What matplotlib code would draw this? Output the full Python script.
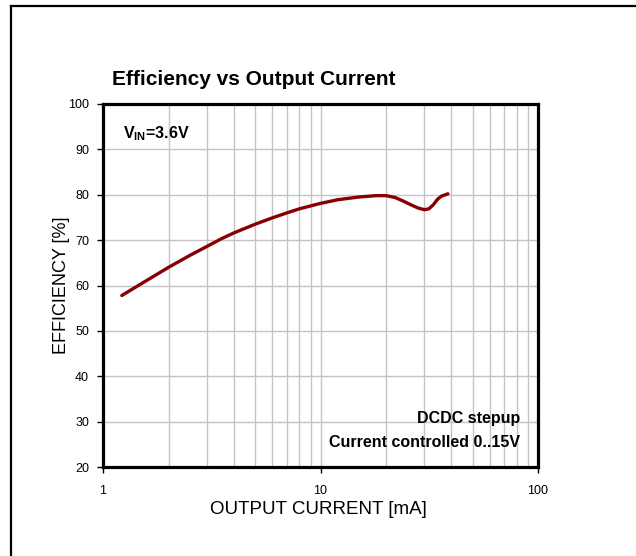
import matplotlib
matplotlib.use('Agg')
import matplotlib.pyplot as plt
from matplotlib.lines import Line2D
from matplotlib.ticker import LogLocator, NullFormatter

plt.rcParams['font.family'] = ['Liberation Sans', 'DejaVu Sans']

# --- DATA ---
current_ma = [1.22, 1.5, 2.0, 2.5, 3.0, 3.5, 4.0, 5.0, 6.0, 7.0, 8.0, 10.0, 12.0,
              15.0, 18.0, 20.0, 22.0, 24.0, 26.0, 28.0, 30.0, 31.5, 33.0, 34.5,
              36.0, 38.5]
efficiency = [57.8, 60.4, 64.0, 66.6, 68.6, 70.3, 71.6, 73.5, 74.9, 76.0, 76.9, 78.1,
              78.9, 79.5, 79.8, 79.8, 79.4, 78.6, 77.8, 77.1, 76.7, 76.9, 77.8, 79.0,
              79.7, 80.2]

title = 'Efficiency vs Output Current'
xlabel = 'OUTPUT CURRENT [mA]'
ylabel = 'EFFICIENCY [%]'
y_ticks = [20, 30, 40, 50, 60, 70, 80, 90, 100]
x_ticks = [1, 10, 100]

fig = plt.figure(figsize=(6.36, 5.56), dpi=100)
ax = fig.add_axes([0.162, 0.160, 0.684, 0.653])

ax.plot(current_ma, efficiency, color='#880000', linewidth=2.4,
        solid_capstyle='round', solid_joinstyle='round')

ax.set_xscale('log')
ax.set_xlim(1, 100)
ax.set_ylim(20, 100)
ax.set_yticks(y_ticks)
ax.set_xticks(x_ticks)
ax.set_xticklabels([str(t) for t in x_ticks])
ax.xaxis.set_minor_locator(LogLocator(base=10, subs=range(2, 10)))
ax.xaxis.set_minor_formatter(NullFormatter())

ax.grid(True, which='major', color='#c4c4c4', linewidth=1.0)
ax.grid(True, which='minor', axis='x', color='#c4c4c4', linewidth=1.0)
ax.set_axisbelow(True)

for s in ax.spines.values():
    s.set_linewidth(2.3)
    s.set_color('black')

ax.tick_params(axis='y', which='major', direction='out', length=4, width=1,
               labelsize=9, pad=6)
ax.tick_params(axis='x', which='major', direction='out', length=4, width=1,
               labelsize=9, pad=9)
ax.tick_params(axis='x', which='minor', length=0)

fig.text(318 / 636, 1 - 510 / 556, xlabel, fontsize=13.5, ha='center', va='center')
fig.text(62 / 636, 1 - 285 / 556, ylabel, fontsize=13, rotation=90,
         ha='center', va='center')

fig.text(0.176, 0.847, title, fontsize=15, fontweight='bold', ha='left', va='baseline')

ax.text(0.046, 0.906, r'V$_{\mathregular{IN}}$=3.6V', transform=ax.transAxes,
        fontsize=11.5, fontweight='bold', ha='left', va='baseline')
ax.text(0.959, 0.121, 'DCDC stepup', transform=ax.transAxes,
        fontsize=11.5, fontweight='bold', ha='right', va='baseline')
ax.text(0.959, 0.055, 'Current controlled 0..15V', transform=ax.transAxes,
        fontsize=11.5, fontweight='bold', ha='right', va='baseline')

# frame lines at top and left of the picture
fig.add_artist(Line2D([11 / 636, 1.0], [1 - 6 / 556, 1 - 6 / 556],
                      transform=fig.transFigure, color='black', linewidth=1.6))
fig.add_artist(Line2D([11 / 636, 11 / 636], [0.0, 1 - 6 / 556],
                      transform=fig.transFigure, color='black', linewidth=1.6))

fig.savefig('out.png', dpi=100)
